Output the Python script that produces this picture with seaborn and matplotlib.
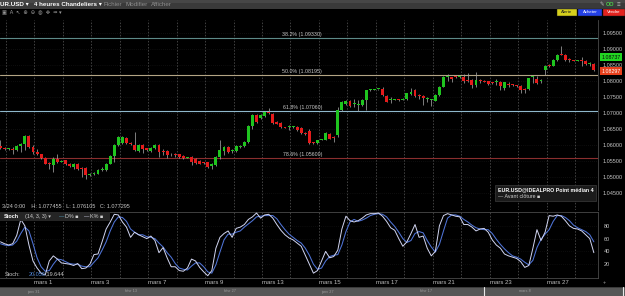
import numpy as np
import pandas as pd
import matplotlib
matplotlib.use("Agg")
import matplotlib.pyplot as plt
import matplotlib.transforms as mtransforms
from matplotlib.patches import Rectangle
import seaborn as sns

# ---------------- data ----------------
opens = [1.0597, 1.0592, 1.0588, 1.0589, 1.0586, 1.0597, 1.0605, 1.0628, 1.0595, 1.0579,
         1.0572, 1.0561, 1.0542, 1.0537, 1.0558, 1.0549, 1.0553, 1.0540, 1.0532, 1.0540,
         1.0528, 1.0529, 1.0506, 1.0510, 1.0511, 1.0524, 1.0524, 1.0542, 1.0566, 1.0600,
         1.0607, 1.0623, 1.0607, 1.0600, 1.0582, 1.0600, 1.0590, 1.0582, 1.0592, 1.0600,
         1.0579, 1.0582, 1.0572, 1.0571, 1.0572, 1.0567, 1.0561, 1.0563, 1.0558, 1.0551,
         1.0545, 1.0547, 1.0534, 1.0537, 1.0563, 1.0582, 1.0595, 1.0583, 1.0582, 1.0595,
         1.0597, 1.0610, 1.0659, 1.0694, 1.0683, 1.0690, 1.0701, 1.0697, 1.0673, 1.0670,
         1.0655, 1.0655, 1.0657, 1.0655, 1.0652, 1.0638, 1.0644, 1.0607, 1.0607, 1.0616,
         1.0617, 1.0636, 1.0624, 1.0631, 1.0709, 1.0728, 1.0738, 1.0727, 1.0724, 1.0725,
         1.0740, 1.0771, 1.0772, 1.0774, 1.0774, 1.0753, 1.0739, 1.0741, 1.0740, 1.0741,
         1.0743, 1.0759, 1.0772, 1.0753, 1.0753, 1.0744, 1.0740, 1.0738, 1.0756, 1.0782,
         1.0811, 1.0811, 1.0813, 1.0811, 1.0813, 1.0801, 1.0803, 1.0787, 1.0801, 1.0798,
         1.0798, 1.0793, 1.0795, 1.0795, 1.0777, 1.0790, 1.0787, 1.0786, 1.0785, 1.0774,
         1.0774, 1.0811, 1.0805, 1.0798, 1.0834, 1.0847, 1.0847, 1.0865, 1.0881, 1.0881,
         1.0865, 1.0863, 1.0863, 1.0863, 1.0863, 1.0852, 1.0852]
highs = [1.0615, 1.0595, 1.0592, 1.0595, 1.0600, 1.0607, 1.0633, 1.0631, 1.0600, 1.0589,
         1.0574, 1.0563, 1.0548, 1.0563, 1.0574, 1.0555, 1.0555, 1.0545, 1.0545, 1.0545,
         1.0532, 1.0532, 1.0513, 1.0516, 1.0526, 1.0532, 1.0545, 1.0569, 1.0603, 1.0628,
         1.0628, 1.0624, 1.0610, 1.0641, 1.0603, 1.0603, 1.0592, 1.0595, 1.0603, 1.0603,
         1.0589, 1.0584, 1.0576, 1.0576, 1.0574, 1.0570, 1.0563, 1.0565, 1.0561, 1.0553,
         1.0548, 1.0549, 1.0545, 1.0565, 1.0617, 1.0597, 1.0597, 1.0589, 1.0600, 1.0599,
         1.0613, 1.0662, 1.0697, 1.0697, 1.0697, 1.0707, 1.0714, 1.0699, 1.0675, 1.0672,
         1.0657, 1.0662, 1.0659, 1.0659, 1.0655, 1.0641, 1.0649, 1.0610, 1.0617, 1.0620,
         1.0641, 1.0639, 1.0628, 1.0720, 1.0738, 1.0740, 1.0740, 1.0743, 1.0740, 1.0743,
         1.0772, 1.0774, 1.0776, 1.0776, 1.0782, 1.0755, 1.0751, 1.0745, 1.0744, 1.0746,
         1.0763, 1.0777, 1.0774, 1.0759, 1.0755, 1.0749, 1.0745, 1.0759, 1.0784, 1.0815,
         1.0820, 1.0813, 1.0815, 1.0818, 1.0822, 1.0824, 1.0805, 1.0826, 1.0805, 1.0801,
         1.0800, 1.0795, 1.0805, 1.0798, 1.0797, 1.0795, 1.0789, 1.0788, 1.0787, 1.0777,
         1.0810, 1.0815, 1.0815, 1.0805, 1.0849, 1.0853, 1.0868, 1.0883, 1.0907, 1.0883,
         1.0871, 1.0865, 1.0865, 1.0874, 1.0865, 1.0860, 1.0855]
lows = [1.0589, 1.0586, 1.0584, 1.0572, 1.0582, 1.0579, 1.0584, 1.0592, 1.0574, 1.0569,
        1.0557, 1.0540, 1.0527, 1.0516, 1.0545, 1.0547, 1.0537, 1.0532, 1.0527, 1.0524,
        1.0501, 1.0496, 1.0503, 1.0506, 1.0509, 1.0520, 1.0520, 1.0540, 1.0548, 1.0597,
        1.0603, 1.0605, 1.0600, 1.0582, 1.0579, 1.0576, 1.0582, 1.0579, 1.0589, 1.0563,
        1.0569, 1.0561, 1.0567, 1.0563, 1.0561, 1.0557, 1.0559, 1.0537, 1.0542, 1.0540,
        1.0540, 1.0530, 1.0527, 1.0534, 1.0558, 1.0569, 1.0576, 1.0576, 1.0580, 1.0591,
        1.0595, 1.0608, 1.0649, 1.0670, 1.0680, 1.0688, 1.0697, 1.0667, 1.0665, 1.0653,
        1.0653, 1.0648, 1.0654, 1.0645, 1.0636, 1.0633, 1.0605, 1.0603, 1.0605, 1.0615,
        1.0615, 1.0618, 1.0610, 1.0626, 1.0707, 1.0725, 1.0720, 1.0720, 1.0707, 1.0722,
        1.0709, 1.0768, 1.0770, 1.0772, 1.0754, 1.0733, 1.0730, 1.0739, 1.0737, 1.0739,
        1.0740, 1.0756, 1.0751, 1.0743, 1.0725, 1.0735, 1.0722, 1.0736, 1.0754, 1.0780,
        1.0798, 1.0795, 1.0810, 1.0809, 1.0793, 1.0797, 1.0777, 1.0782, 1.0793, 1.0795,
        1.0788, 1.0789, 1.0787, 1.0770, 1.0772, 1.0780, 1.0785, 1.0781, 1.0761, 1.0763,
        1.0772, 1.0793, 1.0790, 1.0793, 1.0819, 1.0843, 1.0845, 1.0863, 1.0879, 1.0863,
        1.0860, 1.0861, 1.0861, 1.0847, 1.0850, 1.0847, 1.0832]
closes = [1.0592, 1.0588, 1.0589, 1.0586, 1.0597, 1.0603, 1.0628, 1.0595, 1.0579, 1.0572,
          1.0561, 1.0542, 1.0540, 1.0558, 1.0548, 1.0551, 1.0540, 1.0534, 1.0540, 1.0527,
          1.0526, 1.0506, 1.0511, 1.0512, 1.0524, 1.0527, 1.0540, 1.0565, 1.0600, 1.0626,
          1.0624, 1.0607, 1.0603, 1.0584, 1.0600, 1.0589, 1.0584, 1.0592, 1.0600, 1.0579,
          1.0578, 1.0569, 1.0571, 1.0570, 1.0563, 1.0561, 1.0562, 1.0548, 1.0545, 1.0542,
          1.0544, 1.0532, 1.0540, 1.0563, 1.0584, 1.0595, 1.0579, 1.0584, 1.0597, 1.0596,
          1.0610, 1.0659, 1.0694, 1.0673, 1.0694, 1.0704, 1.0700, 1.0670, 1.0667, 1.0655,
          1.0654, 1.0656, 1.0658, 1.0647, 1.0638, 1.0636, 1.0607, 1.0606, 1.0615, 1.0617,
          1.0638, 1.0620, 1.0622, 1.0709, 1.0735, 1.0738, 1.0722, 1.0728, 1.0725, 1.0740,
          1.0770, 1.0772, 1.0774, 1.0775, 1.0756, 1.0735, 1.0740, 1.0743, 1.0739, 1.0743,
          1.0761, 1.0766, 1.0753, 1.0752, 1.0746, 1.0745, 1.0741, 1.0756, 1.0782, 1.0811,
          1.0815, 1.0807, 1.0812, 1.0815, 1.0798, 1.0799, 1.0787, 1.0801, 1.0800, 1.0797,
          1.0790, 1.0792, 1.0796, 1.0784, 1.0795, 1.0788, 1.0786, 1.0783, 1.0770, 1.0773,
          1.0808, 1.0812, 1.0793, 1.0799, 1.0847, 1.0846, 1.0865, 1.0881, 1.0880, 1.0865,
          1.0864, 1.0862, 1.0863, 1.0862, 1.0852, 1.0853, 1.0834]

stoch_k = [55, 52, 50, 52, 65, 90, 80, 50, 25, 14, 6, 3, 25, 33, 28, 22, 21, 20, 18, 21,
           13, 14, 20, 35, 36, 55, 75, 86, 98, 97, 86, 78, 62, 70, 66, 63, 60, 64, 57, 38,
           46, 30, 16, 16, 10, 9, 14, 28, 25, 15, 8, 2, 10, 45, 62, 68, 72, 62, 76, 78,
           82, 90, 94, 100, 92, 97, 98, 92, 82, 73, 66, 61, 58, 53, 48, 34, 20, 6, 10, 25,
           40, 30, 32, 42, 75, 95, 88, 86, 88, 92, 97, 99, 99, 100, 95, 87, 77, 73, 60, 48,
           55, 68, 82, 62, 64, 45, 33, 40, 80, 96, 99, 97, 95, 94, 82, 82, 78, 72, 75, 76,
           70, 58, 50, 45, 36, 33, 31, 29, 24, 15, 18, 45, 74, 57, 70, 96, 95, 97, 95, 88,
           80, 76, 75, 72, 66, 60, 38]
stoch_d = [52, 50, 49, 50, 56, 68, 78, 72, 52, 30, 16, 9, 10, 20, 28, 27, 24, 21, 20, 20,
           17, 16, 16, 23, 30, 42, 55, 72, 86, 94, 93, 87, 75, 70, 66, 66, 63, 62, 60, 53,
           47, 38, 31, 21, 14, 12, 11, 17, 22, 22, 16, 8, 6, 19, 39, 58, 67, 67, 70, 72,
           78, 83, 88, 94, 95, 96, 96, 96, 91, 82, 74, 67, 62, 57, 53, 45, 34, 20, 12, 14,
           25, 32, 34, 35, 50, 71, 86, 90, 87, 89, 92, 96, 98, 99, 98, 94, 86, 79, 70, 60,
           54, 57, 68, 71, 69, 57, 47, 39, 51, 72, 92, 97, 97, 95, 90, 86, 81, 77, 75, 74,
           74, 68, 59, 51, 44, 38, 33, 31, 28, 23, 19, 26, 46, 59, 67, 74, 87, 96, 96, 93,
           88, 81, 77, 74, 71, 66, 55]

price_ticks = [1.045, 1.050, 1.055, 1.060, 1.065, 1.070, 1.075, 1.080, 1.085, 1.090, 1.095]
stoch_ticks = [20, 40, 60, 80]
fib_names = ["38.2%", "50.0%", "61.8%", "78.6%"]
fib_levels = [1.09330, 1.08195, 1.07060, 1.05600]
date_labels = ["mars 1", "mars 3", "mars 7", "mars 9", "mars 13", "mars 15",
               "mars 17", "mars 21", "mars 23", "mars 27"]
quote_prices = [1.08737, 1.08297]
info_text = "3/24 0:00    H: 1.077455   L: 1.076105   C: 1.077295"
stoch_values = ["20.059", "19.644"]
nav_labels = ["janv 31", "févr 13", "févr 27", "janv 27", "févr 17", "mars 8"]

# ---------------- style ----------------
sns.set_theme(style="dark")
plt.rcParams["font.family"] = ["Liberation Sans", "DejaVu Sans"]
plt.rcParams["axes.facecolor"] = "black"
plt.rcParams["figure.facecolor"] = "black"

W, H = 625, 296
fig = plt.figure(figsize=(W / 100, H / 100), dpi=100, facecolor="black")


def px(x0, y0, x1, y1):
    return [x0 / W, 1 - y1 / H, (x1 - x0) / W, (y1 - y0) / H]


ax = fig.add_axes(px(0, 19.5, 598, 209.5))
ax2 = fig.add_axes(px(0, 212, 598, 277.5), sharex=ax)
ui = fig.add_axes([0, 0, 1, 1])
ui.set_xlim(0, W)
ui.set_ylim(H, 0)
ui.axis("off")

df = pd.DataFrame({"o": opens, "h": highs, "l": lows, "c": closes})
df["idx"] = np.arange(len(df))
df["up"] = df["c"] >= df["o"]
XL = (-0.12, 147.02)
per_day = 7
first_day = 1.35
day_lines = [first_day + per_day * k for k in range(21)]

for a in (ax, ax2):
    a.set_facecolor("black")
    a.grid(False)
    for s in a.spines.values():
        s.set_visible(False)
    for xb in day_lines:
        a.axvline(xb, color="#5a5a5a", lw=0.5, ls=(0, (2.2, 2.2)), zorder=0.5)

# ---- main price panel ----
ax.set_xlim(*XL)
ax.set_ylim(1.0400, 1.09906)
for p in price_ticks:
    ax.axhline(p, color="#1c1c1c", lw=0.5, ls=(0, (1, 2)), zorder=0.4)

fib_colors = ["#5d8a88", "#b4a585", "#8fb8cc", "#8a2e2e"]
tr = mtransforms.blended_transform_factory(ax.transAxes, ax.transData)
for lvl, name, col in zip(fib_levels, fib_names, fib_colors):
    ax.axhline(lvl, color=col, lw=0.8, zorder=1)
    ax.text(0.5385, lvl + 0.0002, f"{name} ({lvl:.5f})", transform=tr, ha="right",
            va="bottom", fontsize=3.8, color="#c9c9c9", zorder=3)

green, red = "#1fc41f", "#e51b1b"
cols = np.where(df["up"], green, red)
ax.vlines(df["idx"], df["l"], df["h"], color="#a0a0a0", lw=0.55, zorder=2)
body = (df["c"] - df["o"]).abs().clip(lower=0.0003)
bottom = df[["o", "c"]].min(axis=1)
ax.bar(df["idx"], body, bottom=bottom, width=0.72, color=cols, linewidth=0, zorder=3)

ax.yaxis.tick_right()
ax.set_yticks(price_ticks)
ax.set_yticklabels([f"{p:.5f}" for p in price_ticks])
ax.tick_params(axis="y", length=0, pad=3.5, labelsize=4, labelcolor="#c4c4c4")
ax.tick_params(axis="x", bottom=False, labelbottom=False, length=0)
ax.spines["right"].set_visible(True)
ax.spines["right"].set_color("#4a4a4a")
ax.spines["right"].set_linewidth(0.6)

trq = mtransforms.blended_transform_factory(ax.transAxes, ax.transData)
ax.text(1.006, quote_prices[0], f"{quote_prices[0]:.5f}", transform=trq, fontsize=3.8,
        color="#0a0a0a", va="center", ha="left", clip_on=False, zorder=5,
        bbox=dict(boxstyle="square,pad=0.25", fc="#22d622", ec="none"))
ax.text(1.006, quote_prices[1], f"{quote_prices[1]:.5f}", transform=trq, fontsize=3.8,
        color="white", va="center", ha="left", clip_on=False, zorder=5,
        bbox=dict(boxstyle="square,pad=0.3", fc="#e8401c", ec="none"))

# ---- stochastic panel ----
ax2.set_xlim(*XL)
ax2.set_ylim(-0.8, 101.6)
for v in stoch_ticks:
    ax2.axhline(v, color="#181818", lw=0.5, ls=(0, (1, 2)), zorder=0.4)
sdf = pd.DataFrame({"idx": np.arange(len(stoch_k)), "K": stoch_k, "D": stoch_d})
sns.lineplot(data=sdf, x="idx", y="D", ax=ax2, color="#4f74d8", lw=0.75, zorder=3)
sns.lineplot(data=sdf, x="idx", y="K", ax=ax2, color="#d2d6f2", lw=0.7, zorder=4)
ax2.set_xlabel("")
ax2.set_ylabel("")
ax2.yaxis.tick_right()
ax2.set_yticks(stoch_ticks)
ax2.set_yticklabels([str(v) for v in stoch_ticks])
ax2.tick_params(axis="y", length=0, pad=4, labelsize=4, labelcolor="#c4c4c4")
ax2.set_xticks([day_lines[k] for k in range(1, 21, 2)])
ax2.set_xticklabels(date_labels)
ax2.tick_params(axis="x", length=0, pad=1.6, labelsize=4.3, labelcolor="#bdbdbd",
                bottom=True, labelbottom=True)
for lab in ax2.get_xticklabels():
    lab.set_ha("left")
for s in ("top", "right", "bottom"):
    ax2.spines[s].set_visible(True)
    ax2.spines[s].set_color("#4a4a4a")
    ax2.spines[s].set_linewidth(0.6)

# ---------------- interface chrome ----------------
ui.add_patch(Rectangle((0, 0), W, 8.5, fc="#3a3a3a", ec="none"))
ui.add_patch(Rectangle((0, 0), W, 3, fc="#474747", ec="none"))
ui.text(0.5, 4.6, "UR.USD ▾", fontsize=4.5, color="white", fontweight="bold", va="center")
ui.text(34, 4.6, "4 heures Chandeliers ▾", fontsize=4.5, color="white",
        fontweight="bold", va="center")
ui.text(103, 4.6, "Fichier", fontsize=4.5, color="#8e8e8e", va="center")
ui.text(125, 4.6, "Modifier", fontsize=4.5, color="#8e8e8e", va="center")
ui.text(151, 4.6, "Afficher", fontsize=4.5, color="#8e8e8e", va="center")
ui.text(600, 4.4, "✎", fontsize=4, color="#bbbbbb", va="center")
ui.text(606, 4.4, "OO", fontsize=4, color="#4ad04a", va="center", fontweight="bold")
ui.text(617, 4.4, "≡", fontsize=4.5, color="#bbbbbb", va="center")
ui.text(2, 12, "▣  A  ↖  ⊕  ⊖  ◍  ✥  ⇹ ▾", fontsize=3.8, color="#9a9a9a", va="center")

for x0, x1, fc, tc, t in [(556.5, 577, "#d6cf1c", "#202020", "Alerte"),
                          (578, 602, "#2340e6", "white", "Acheter"),
                          (603, 625, "#e3231f", "white", "Vendre")]:
    ui.add_patch(Rectangle((x0, 8.5), x1 - x0, 7, fc=fc, ec="#1a1a1a", lw=0.3))
    ui.text((x0 + x1) / 2, 12.1, t, fontsize=3.2, color=tc, ha="center", va="center")

ui.text(2, 206.3, info_text, fontsize=4, color="#c8c8c8", va="center")

ui.add_patch(Rectangle((495, 184.5), 101, 16.5, fc="#1b1b1b", ec="#3c3c3c", lw=0.5))
ui.text(498, 189.5, "EUR.USD@IDEALPRO Point médian 4", fontsize=3.8, color="white",
        fontweight="bold", va="center")
ui.text(498, 196.5, "— Avant clôture ■", fontsize=3.8, color="#cfcfcf", va="center")

ui.add_patch(Rectangle((0, 212.3), 110, 8.2, fc="#252525", ec="none"))
ui.text(4, 216.4, "Stoch", fontsize=3.9, color="white", fontweight="bold", va="center")
ui.text(25, 216.4, "(14, 3, 3) ▾", fontsize=3.9, color="#d0d0d0", va="center")
ui.text(59, 216.4, "—", fontsize=3.9, color="#5aa8c8", va="center")
ui.text(65, 216.4, "D% ■", fontsize=3.9, color="#d0d0d0", va="center")
ui.text(84, 216.4, "—", fontsize=3.9, color="#d8d8f0", va="center")
ui.text(90, 216.4, "K% ■", fontsize=3.9, color="#d0d0d0", va="center")

ui.text(5, 274, "Stoch:", fontsize=4, color="#c8c8c8", va="center")
ui.text(28.5, 274, stoch_values[0], fontsize=4, color="#4f86d8", va="center")
ui.text(45.5, 274, "," + stoch_values[1], fontsize=4, color="#c8c8c8", va="center")
ui.text(603, 282, "+", fontsize=4, color="#a0a0a0", va="center")

ui.add_patch(Rectangle((0, 286.5), W, 9.5, fc="#565656", ec="none"))
ui.add_patch(Rectangle((0, 286.5), W, 1.2, fc="#3a3a3a", ec="none"))
ui.plot([483.5, 483.5], [287, 296], color="#e8e8e8", lw=0.8)
ui.plot([622.5, 622.5], [287, 296], color="#e8e8e8", lw=0.8)
for x, t in zip([27, 125, 224, 321, 420, 519], nav_labels):
    ui.text(x, 291.5, t, fontsize=2.8, color="#9c9c9c", va="center")

fig.savefig("out.png", dpi=100, facecolor="black")
